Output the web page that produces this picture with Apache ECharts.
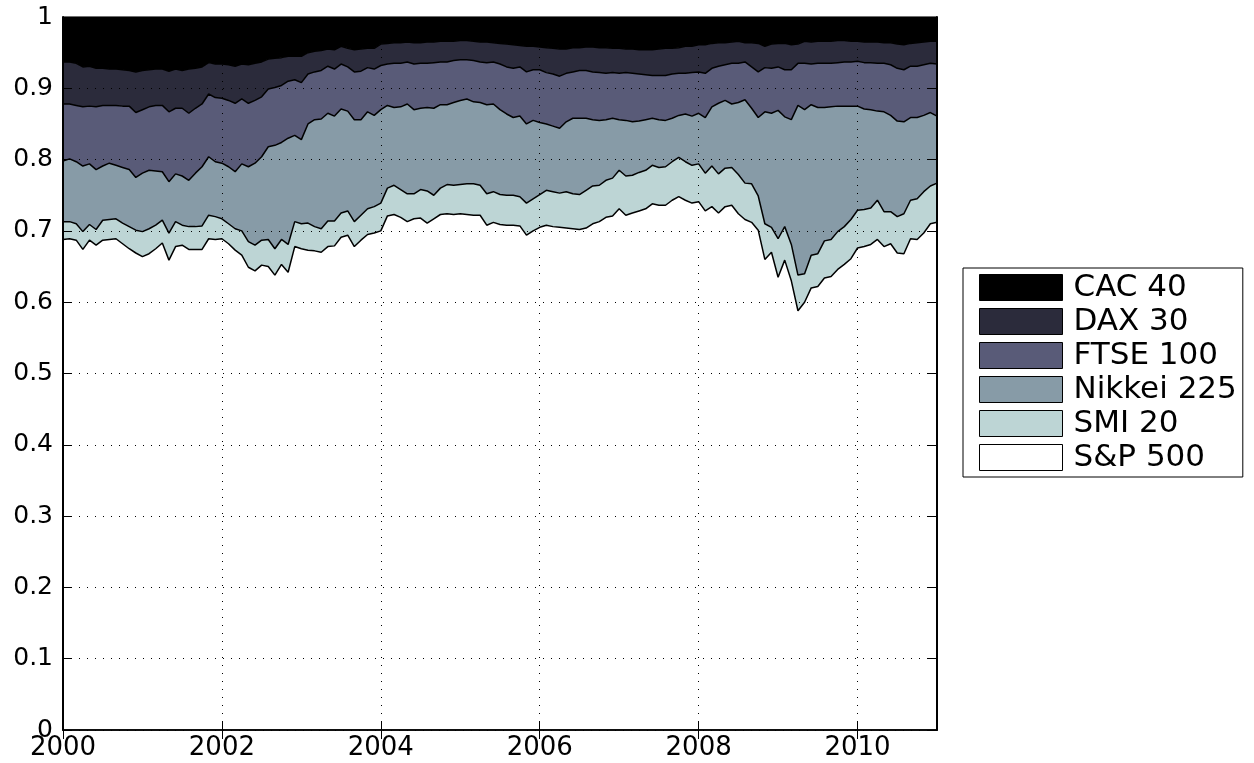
<!DOCTYPE html>
<html>
<head>
<meta charset="utf-8">
<script src="https://cdn.jsdelivr.net/npm/echarts@6/dist/echarts.min.js"></script>
<style>html,body{margin:0;padding:0;background:#fff}#c{width:1254px;height:763px}</style>
</head>
<body>
<div id="c"></div>
<script>
// Series names, bottom to top of the stack
const seriesNames = ['S&P 500', 'SMI 20', 'Nikkei 225', 'FTSE 100', 'DAX 30', 'CAC 40'];
const seriesColors = ['#ffffff', '#bdd5d5', '#879ba7', '#595b78', '#2b2b3b', '#000000'];
const legendOrder = ['CAC 40', 'DAX 30', 'FTSE 100', 'Nikkei 225', 'SMI 20', 'S&P 500'];
const yearTicks = ['2000', '2002', '2004', '2006', '2008', '2010'];

// Cumulative upper edge of each band, monthly Jan 2000 .. Jan 2011
const spTop = [
  .688,.689,.687,.674,.687,.680,.687,.688,.689,.682,
  .675,.669,.664,.668,.675,.683,.659,.678,.680,.674,
  .674,.674,.689,.688,.689,.682,.673,.666,.649,.644,
  .652,.650,.638,.653,.642,.678,.675,.673,.672,.670,
  .678,.679,.691,.694,.678,.687,.695,.697,.700,.721,
  .723,.719,.713,.717,.718,.711,.717,.723,.724,.723,
  .724,.723,.722,.722,.708,.712,.709,.708,.708,.707,
  .694,.700,.705,.708,.706,.705,.704,.703,.702,.704,
  .710,.713,.719,.721,.731,.722,.725,.728,.731,.738,
  .736,.736,.743,.748,.743,.739,.741,.728,.734,.725,
  .734,.736,.724,.716,.712,.701,.660,.670,.635,.659,
  .630,.588,.600,.620,.622,.634,.636,.646,.653,.661,
  .676,.678,.681,.688,.678,.682,.669,.668,.689,.688,
  .697,.710,.712
];
const smiTop = [
  .713,.713,.710,.699,.709,.702,.715,.716,.717,.711,
  .706,.701,.699,.703,.708,.715,.697,.713,.708,.706,
  .706,.707,.722,.720,.717,.710,.703,.700,.685,.680,
  .687,.688,.675,.688,.681,.713,.710,.711,.706,.703,
  .714,.714,.725,.728,.713,.722,.731,.734,.739,.760,
  .764,.758,.752,.752,.758,.756,.750,.760,.765,.764,
  .765,.766,.766,.764,.752,.755,.751,.750,.750,.748,
  .739,.745,.751,.757,.755,.753,.755,.752,.751,.757,
  .763,.764,.771,.774,.785,.777,.778,.782,.785,.792,
  .789,.790,.797,.803,.797,.792,.794,.781,.791,.780,
  .788,.789,.779,.767,.766,.749,.710,.705,.689,.706,
  .681,.638,.640,.666,.668,.686,.688,.699,.706,.716,
  .729,.730,.732,.743,.727,.727,.720,.724,.743,.745,
  .755,.763,.767
];
const nikkeiTop = [
  .798,.801,.797,.791,.794,.786,.791,.795,.792,.789,
  .786,.775,.781,.785,.784,.783,.769,.780,.777,.771,
  .781,.790,.804,.797,.795,.790,.783,.794,.790,.795,
  .804,.818,.820,.824,.830,.834,.828,.850,.856,.857,
  .865,.861,.871,.868,.856,.856,.867,.862,.870,.876,
  .873,.874,.878,.870,.872,.873,.872,.877,.877,.880,
  .883,.885,.881,.880,.877,.878,.870,.864,.859,.861,
  .850,.855,.852,.850,.847,.844,.853,.858,.858,.858,
  .856,.855,.856,.858,.856,.855,.853,.854,.856,.858,
  .856,.855,.858,.862,.864,.861,.865,.859,.874,.879,
  .883,.878,.880,.884,.872,.859,.867,.865,.869,.860,
  .856,.876,.870,.877,.873,.873,.874,.875,.875,.875,
  .875,.871,.870,.868,.867,.862,.854,.853,.859,.859,
  .862,.866,.861
];
const ftseTop = [
  .878,.878,.876,.874,.875,.874,.876,.876,.876,.875,
  .875,.866,.870,.874,.876,.876,.867,.872,.872,.865,
  .872,.878,.892,.887,.886,.883,.879,.885,.879,.883,
  .888,.899,.901,.904,.910,.912,.908,.920,.923,.925,
  .931,.927,.934,.930,.923,.924,.929,.927,.932,.934,
  .935,.935,.937,.934,.935,.935,.936,.937,.937,.939,
  .940,.940,.939,.937,.936,.937,.934,.930,.928,.930,
  .923,.926,.926,.922,.920,.917,.921,.923,.925,.925,
  .923,.922,.921,.922,.921,.922,.921,.920,.919,.918,
  .918,.918,.920,.921,.921,.922,.923,.921,.928,.931,
  .933,.935,.935,.937,.930,.923,.929,.928,.930,.926,
  .926,.935,.935,.934,.935,.935,.935,.936,.937,.937,
  .938,.936,.936,.935,.935,.933,.928,.926,.931,.931,
  .933,.935,.934
];
const daxTop = [
  .937,.937,.935,.930,.931,.928,.928,.927,.927,.926,
  .925,.923,.925,.926,.927,.927,.924,.927,.925,.927,
  .928,.930,.936,.934,.934,.933,.931,.934,.933,.935,
  .937,.941,.942,.943,.945,.945,.945,.950,.952,.953,
  .955,.954,.959,.956,.954,.955,.956,.956,.962,.963,
  .964,.964,.965,.964,.964,.965,.965,.966,.966,.966,
  .967,.967,.966,.965,.965,.964,.963,.962,.961,.960,
  .959,.959,.958,.957,.956,.955,.955,.957,.957,.958,
  .958,.957,.957,.956,.956,.955,.955,.954,.954,.954,
  .955,.956,.956,.957,.959,.959,.961,.961,.963,.964,
  .964,.965,.966,.964,.964,.963,.959,.962,.963,.963,
  .961,.962,.966,.965,.966,.966,.966,.967,.967,.966,
  .966,.965,.965,.965,.964,.964,.962,.961,.963,.964,
  .965,.966,.966
];
const totalShare = 1;

// Month categories
const months = [];
for (let i = 0; i < spTop.length; i++) {
  const y = 2000 + Math.floor(i / 12);
  const m = (i % 12) + 1;
  months.push(y + '-' + (m < 10 ? '0' + m : m));
}

// Each band's own share = its upper edge minus the edge below it
const edges = [spTop, smiTop, nikkeiTop, ftseTop, daxTop];
const shares = seriesNames.map((n, k) => months.map((_, i) => {
  const upper = k < edges.length ? edges[k][i] : totalShare;
  const lower = k === 0 ? 0 : edges[k - 1][i];
  return Math.round((upper - lower) * 10000) / 10000;
}));

const isYearTick = (index) => index % 24 === 0 && index < months.length - 1;
const font = 'DejaVu Sans';

const chart = echarts.init(document.getElementById('c'), null, { renderer: 'canvas' });
chart.setOption({
  animation: false,
  backgroundColor: '#ffffff',
  grid: { left: 63, right: 317, top: 17, bottom: 33 },
  legend: {
    orient: 'vertical',
    left: 963,
    top: 268,
    selectedMode: false,
    icon: 'rect',
    itemWidth: 83,
    itemHeight: 26,
    itemGap: 3,
    padding: [4, 6, 4, 16],
    borderColor: '#000',
    borderWidth: 1,
    backgroundColor: '#fff',
    itemStyle: { borderColor: '#000', borderWidth: 1 },
    textStyle: { fontFamily: font, fontSize: 31, color: '#000', padding: [0, 0, 0, 6] },
    data: legendOrder.map(n => ({ name: n, itemStyle: { color: seriesColors[seriesNames.indexOf(n)] } }))
  },
  xAxis: [{
    type: 'category',
    data: months,
    boundaryGap: false,
    z: 5,
    axisLine: { show: true, lineStyle: { color: '#000', width: 1.5 } },
    axisTick: { show: true, inside: true, length: 9, interval: isYearTick, lineStyle: { color: '#000' } },
    axisLabel: {
      show: true, interval: isYearTick, margin: 5,
      fontFamily: font, fontSize: 26, color: '#000',
      formatter: v => yearTicks.indexOf(v.slice(0, 4)) >= 0 ? v.slice(0, 4) : ''
    },
    splitLine: { show: true, interval: isYearTick, lineStyle: { color: '#000', width: 1, type: [1, 7] } }
  }, {
    type: 'category',
    data: months,
    boundaryGap: false,
    position: 'top',
    z: 5,
    axisLine: { show: true, lineStyle: { color: '#000', width: 1.5 } },
    axisTick: { show: true, inside: true, length: 9, interval: isYearTick, lineStyle: { color: '#000' } },
    axisLabel: { show: false },
    splitLine: { show: false }
  }],
  yAxis: [{
    type: 'value',
    min: 0, max: 1, interval: 0.1,
    z: 5,
    axisLine: { show: true, lineStyle: { color: '#000', width: 2 } },
    axisTick: { show: true, inside: true, length: 9, lineStyle: { color: '#000' } },
    axisLabel: { fontFamily: font, fontSize: 25, color: '#000', margin: 10 },
    splitLine: { show: true, lineStyle: { color: '#000', width: 1, type: [1, 7] } }
  }, {
    type: 'value',
    min: 0, max: 1, interval: 0.1,
    position: 'right',
    z: 5,
    axisLine: { show: true, lineStyle: { color: '#000', width: 2 } },
    axisTick: { show: true, inside: true, length: 9, lineStyle: { color: '#000' } },
    axisLabel: { show: false },
    splitLine: { show: false }
  }],
  series: seriesNames.map((name, k) => ({
    name: name,
    type: 'line',
    stack: 'share',
    xAxisIndex: 0,
    yAxisIndex: 0,
    data: shares[k],
    symbol: 'none',
    showSymbol: false,
    smooth: false,
    z: 2,
    lineStyle: { color: '#000', width: 1.5 },
    itemStyle: { color: seriesColors[k] },
    areaStyle: { color: seriesColors[k], opacity: 1 },
    emphasis: { disabled: true }
  }))
});
</script>
</body>
</html>
